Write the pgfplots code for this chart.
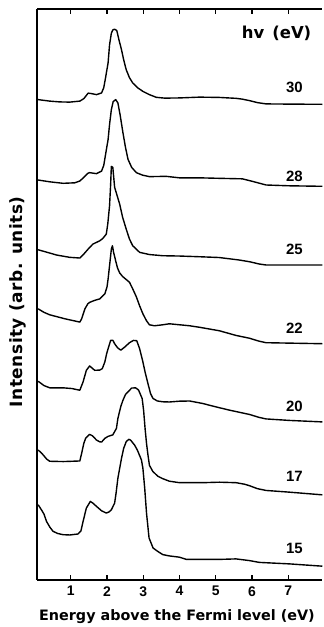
\documentclass[border=0pt]{standalone}
\usepackage{pgfplots}
\pgfplotsset{compat=1.18}
\usepackage{fontspec}
\setmainfont{DejaVu Sans}
\newfontfamily\numfont{Liberation Sans}
\tikzset{spec/.style={black, line width=1.4pt, line join=round, mark=none}}
\begin{document}
\begin{tikzpicture}
\begin{axis}[
  scale only axis, width=286pt, height=573pt,
  xmin=0.078, xmax=7.94, ymin=0, ymax=573,
  axis x line*=box, axis y line*=left,
  axis line style={line width=2pt},
  xtick={1,2,3,4,5,6,7}, xticklabels={1,2,3,4,5,6,7},
  ytick=\empty,
  tick align=inside, major tick length=5pt,
  every tick/.style={line width=1.4pt, black},
  xticklabel style={font=\numfont\bfseries\fontsize{14}{16}\selectfont, yshift=-3pt},
  xlabel={Energy above the Fermi level (eV)},
  xlabel style={font=\bfseries\fontsize{14.4}{17}\selectfont, at={(axis description cs:0.49,0)}, anchor=center, yshift=-37pt},
  ylabel={Intensity (arb. units)},
  ylabel style={font=\bfseries\fontsize{17}{19}\selectfont\addfontfeature{LetterSpace=3}, at={(axis description cs:-0.068,0.487)}, anchor=center},
  clip=true,
]
% hv = 30
\addplot[spec] coordinates {
(0.10,482) (0.42,480.5) (0.70,479.7) (0.97,479.5) (1.25,480.5) (1.36,483) (1.48,488.5) (1.58,488) (1.71,487) (1.85,488.7) (1.91,494) (1.96,504) (2.03,519) (2.07,537) (2.12,548.7) (2.16,552) (2.21,552.7) (2.27,551.3) (2.33,542) (2.40,532) (2.46,522) (2.53,512) (2.62,504) (2.71,498.7) (2.84,494) (2.99,490.3) (3.17,487) (3.36,484.3) (3.59,483.5) (4.00,483.7) (4.55,484.5) (5.10,484.2) (5.56,483.3) (5.73,482.5) (5.93,481) (6.15,479) (6.39,477.7) (7.03,477.5) (7.94,477.3)
};
% hv = 28
\addplot[spec] coordinates {
(0.10,401.3) (0.42,399.5) (0.79,398) (1.11,398.5) (1.25,400.3) (1.36,404) (1.47,408) (1.52,408.7) (1.71,407.7) (1.85,410.3) (1.91,416) (1.96,427) (2.03,442) (2.07,457) (2.12,472) (2.17,480) (2.24,482) (2.30,478.7) (2.36,467) (2.44,448.7) (2.51,434) (2.58,422) (2.68,414) (2.81,408.7) (2.98,406.2) (3.17,404.7) (3.63,405) (4.00,403.5) (4.55,403.5) (5.10,403) (5.73,402.5) (6.06,399.5) (6.39,396.3) (7.03,395.5) (7.94,395)
};
% hv = 25
\addplot[spec] coordinates {
(0.10,331.3) (0.42,328) (0.61,326) (0.97,323.7) (1.25,323) (1.36,327) (1.48,332) (1.61,337) (1.80,340.3) (1.88,342.5) (1.98,347) (2.02,357) (2.07,375.3) (2.10,397) (2.12,415) (2.16,414) (2.21,394) (2.35,377) (2.43,364) (2.53,352) (2.62,342) (2.71,335.3) (2.90,328.7) (3.17,326.5) (3.54,325.3) (4.00,325) (4.55,324.3) (5.10,323.5) (5.65,321) (5.93,319.3) (6.20,317) (6.39,316) (7.94,316)
};
% hv = 22
\addplot[spec] coordinates {
(0.10,272) (0.26,268.5) (0.42,266) (0.84,262) (1.25,258.7) (1.30,262) (1.39,272) (1.47,277) (1.52,278.5) (1.66,280.5) (1.80,282) (1.94,287) (2.00,294) (2.03,302) (2.07,315.3) (2.12,332) (2.15,335.3) (2.18,329) (2.24,320) (2.29,313) (2.35,308) (2.43,304.5) (2.51,302) (2.62,298.7) (2.71,292) (2.81,284) (2.90,275) (2.99,267) (3.09,260) (3.17,256) (3.31,255) (3.54,256) (3.72,257) (4.00,256) (4.28,255) (4.55,253.5) (5.10,250) (5.56,245.3) (5.93,242.5) (6.20,239.5) (6.39,238) (7.94,237)
};
% hv = 20
\addplot[spec] coordinates {
(0.10,199.3) (0.26,195) (0.42,192.7) (0.79,192.7) (1.03,192) (1.25,190.3) (1.34,198.7) (1.43,210.3) (1.52,214.7) (1.66,210.3) (1.80,210.5) (1.87,212) (1.94,218.7) (1.99,227) (2.03,232) (2.10,240.3) (2.16,240.5) (2.21,237) (2.29,233) (2.38,230.5) (2.49,233.7) (2.62,238) (2.73,240.3) (2.82,240) (2.90,232) (2.99,218.7) (3.06,207) (3.13,197) (3.20,187) (3.27,182) (3.39,179.5) (3.54,178.7) (3.72,178.5) (4.00,179.3) (4.28,179.5) (4.64,177) (4.96,174) (5.38,170.3) (5.93,166) (6.20,163) (6.39,161.5) (7.03,160) (7.94,158.5)
};
% hv = 17
\addplot[spec] coordinates {
(0.10,130.3) (0.17,128) (0.24,125.3) (0.34,121) (0.42,119) (0.79,118.7) (1.03,119) (1.25,119.3) (1.30,127) (1.36,137) (1.41,142) (1.52,146) (1.60,144.5) (1.71,140.3) (1.80,138.5) (1.85,138.3) (1.94,142) (2.03,144) (2.16,145.5) (2.26,152) (2.30,162) (2.38,174) (2.44,180.3) (2.51,186) (2.58,188.7) (2.68,192.5) (2.79,192.7) (2.87,190.5) (2.97,182) (3.01,170) (3.05,152) (3.09,137) (3.13,125.3) (3.17,115) (3.26,109) (3.40,104) (3.54,101.5) (3.72,99) (4.00,97.5) (4.28,97.5) (4.64,97.5) (5.10,98) (5.56,97.5) (5.79,96) (5.93,94.5) (6.15,91.5) (6.39,89.7) (7.03,88) (7.94,85.3)
};
% hv = 15
\addplot[spec] coordinates {
(0.10,75.3) (0.19,70.3) (0.26,66) (0.33,58.7) (0.42,53) (0.51,48.7) (0.64,46.5) (0.79,45.3) (0.97,45) (1.20,46) (1.28,49) (1.34,58.7) (1.43,72) (1.54,78.7) (1.61,77) (1.71,73.7) (1.85,69.3) (1.98,67) (2.05,68) (2.12,70.3) (2.21,77) (2.25,87) (2.30,102) (2.35,112) (2.40,122) (2.46,132) (2.53,138.7) (2.60,141) (2.65,140.3) (2.76,135.3) (2.84,130) (2.95,120.3) (2.99,112) (3.04,92) (3.09,67) (3.16,42) (3.27,32) (3.40,28.5) (3.54,25.3) (3.72,24) (4.00,22.7) (4.19,20.5) (4.55,20.5) (5.10,20.5) (5.56,21) (5.93,19.3) (6.20,17.5) (6.47,17) (7.03,16) (7.94,13.7)
};
\node[font=\bfseries\fontsize{16.5}{18}\selectfont] at (axis cs:6.68,549) {hv\hskip 8pt(eV)};
\node[font=\numfont\bfseries\fontsize{15}{16}\selectfont] at (axis cs:7.17,494) {30};
\node[font=\numfont\bfseries\fontsize{15}{16}\selectfont] at (axis cs:7.17,405) {28};
\node[font=\numfont\bfseries\fontsize{15}{16}\selectfont] at (axis cs:7.17,332) {25};
\node[font=\numfont\bfseries\fontsize{15}{16}\selectfont] at (axis cs:7.17,252) {22};
\node[font=\numfont\bfseries\fontsize{15}{16}\selectfont] at (axis cs:7.17,174) {20};
\node[font=\numfont\bfseries\fontsize{15}{16}\selectfont] at (axis cs:7.17,104) {17};
\node[font=\numfont\bfseries\fontsize{15}{16}\selectfont] at (axis cs:7.17,32) {15};
\coordinate (sw) at (rel axis cs:0,0);
\coordinate (ne) at (rel axis cs:1,1);
\end{axis}
\path ([xshift=-37.5pt,yshift=-45pt]sw) rectangle ([yshift=9pt]ne);
\end{tikzpicture}
\end{document}
